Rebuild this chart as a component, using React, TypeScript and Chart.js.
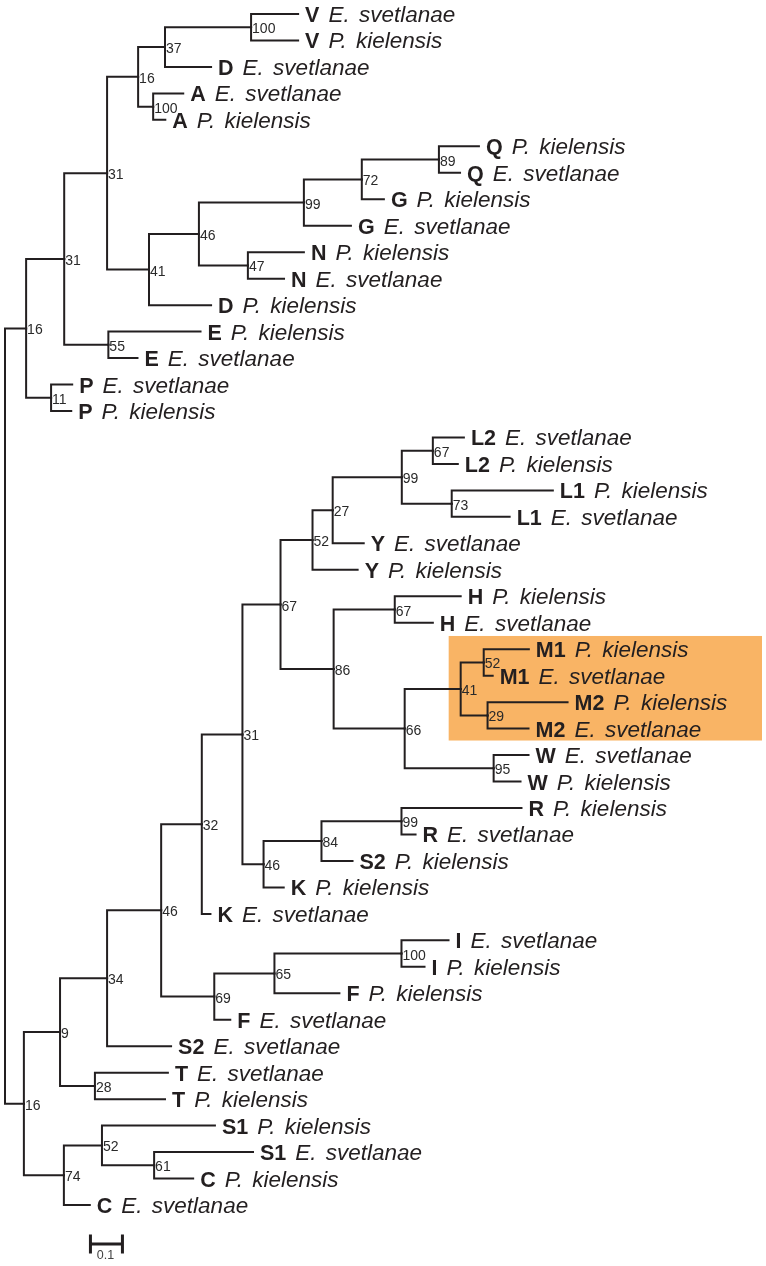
import React, { useEffect, useRef } from 'react';
import { Chart, registerables } from 'chart.js';

Chart.register(...registerables);

// ---- Tree data (top-to-bottom leaf order) ----
const leafCodes = [
  'V', 'V', 'D', 'A', 'A', 'Q', 'Q', 'G', 'G', 'N', 'N', 'D', 'E', 'E', 'P', 'P',
  'L2', 'L2', 'L1', 'L1', 'Y', 'Y', 'H', 'H', 'M1', 'M1', 'M2', 'M2', 'W', 'W',
  'R', 'R', 'S2', 'K', 'K', 'I', 'I', 'F', 'F', 'S2', 'T', 'T', 'S1', 'S1', 'C', 'C',
];
const leafSpecies = [
  'E. svetlanae', 'P. kielensis', 'E. svetlanae', 'E. svetlanae', 'P. kielensis',
  'P. kielensis', 'E. svetlanae', 'P. kielensis', 'E. svetlanae', 'P. kielensis',
  'E. svetlanae', 'P. kielensis', 'P. kielensis', 'E. svetlanae', 'E. svetlanae',
  'P. kielensis',
  'E. svetlanae', 'P. kielensis', 'P. kielensis', 'E. svetlanae', 'E. svetlanae',
  'P. kielensis', 'P. kielensis', 'E. svetlanae', 'P. kielensis', 'E. svetlanae',
  'P. kielensis', 'E. svetlanae', 'E. svetlanae', 'P. kielensis',
  'P. kielensis', 'E. svetlanae', 'P. kielensis', 'P. kielensis', 'E. svetlanae',
  'E. svetlanae', 'P. kielensis', 'P. kielensis', 'E. svetlanae', 'E. svetlanae',
  'E. svetlanae', 'P. kielensis', 'P. kielensis', 'E. svetlanae', 'P. kielensis',
  'E. svetlanae',
];
const leafBranchLengths = [
  0.147, 0.147, 0.144, 0.094, 0.038, 0.125, 0.066, 0.069, 0.147, 0.175, 0.113,
  0.194, 0.288, 0.091, 0.066, 0.063,
  0.097, 0.078, 0.316, 0.181, 0.097, 0.141, 0.206, 0.119, 0.141, 0.028, 0.250,
  0.128, 0.109, 0.084,
  0.375, 0.044, 0.097, 0.063, 0.027, 0.147, 0.072, 0.203, 0.050, 0.200, 0.228,
  0.219, 0.353, 0.309, 0.122, 0.081,
];

// internal nodes: name, children, branch length, bootstrap support
const nodeNames = [
  'root', 'n16a', 'n31b', 'n31a', 'n16b', 'n37', 'n100V', 'n100A', 'n41', 'n46',
  'n99QG', 'n72', 'n89', 'n47', 'n55', 'n11', 'n16c', 'n9', 'n34', 'n46b', 'n32',
  'n31c', 'n67', 'n52Y', 'n27', 'n99L', 'n67L2', 'n73', 'n86', 'n67H', 'n66',
  'n41M', 'n52M', 'n29', 'n95', 'n46K', 'n84', 'n99R', 'n69', 'n65', 'n100I',
  'n28', 'n74', 'n52S', 'n61',
];
const nodeChildren = [
  ['n16a', 'n16c'], ['n31b', 'n11'], ['n31a', 'n55'], ['n16b', 'n41'], ['n37', 'n100A'],
  ['n100V', 'L2'], ['L0', 'L1'], ['L3', 'L4'], ['n46', 'L11'], ['n99QG', 'n47'],
  ['n72', 'L8'], ['n89', 'L7'], ['L5', 'L6'], ['L9', 'L10'], ['L12', 'L13'], ['L14', 'L15'],
  ['n9', 'n74'], ['n34', 'n28'], ['n46b', 'L39'], ['n32', 'n69'], ['n31c', 'L34'],
  ['n67', 'n46K'], ['n52Y', 'n86'], ['n27', 'L21'], ['n99L', 'L20'], ['n67L2', 'n73'],
  ['L16', 'L17'], ['L18', 'L19'], ['n67H', 'n66'], ['L22', 'L23'], ['n41M', 'n95'],
  ['n52M', 'n29'], ['L24', 'L25'], ['L26', 'L27'], ['L28', 'L29'], ['n84', 'L33'],
  ['n99R', 'L32'], ['L30', 'L31'], ['n65', 'L38'], ['n100I', 'L37'], ['L35', 'L36'],
  ['L40', 'L41'], ['n52S', 'L45'], ['L42', 'n61'], ['L43', 'L44'],
];
const nodeBranchLengths = [
  0, 0.066, 0.119, 0.134, 0.097, 0.084, 0.269, 0.047, 0.131, 0.156,
  0.328, 0.181, 0.241, 0.153, 0.138, 0.078, 0.059, 0.113, 0.147, 0.169, 0.127,
  0.127, 0.119, 0.100, 0.063, 0.216, 0.097, 0.156, 0.166, 0.191, 0.222,
  0.175, 0.072, 0.084, 0.278, 0.066, 0.181, 0.250, 0.166, 0.188, 0.397,
  0.109, 0.125, 0.119, 0.163,
];
const nodeSupport = [
  null, 16, 31, 31, 16, 37, 100, 100, 41, 46,
  99, 72, 89, 47, 55, 11, 16, 9, 34, 46, 32,
  31, 67, 52, 27, 99, 67, 73, 86, 67, 66,
  41, 52, 29, 95, 46, 84, 99, 69, 65, 100,
  28, 74, 52, 61,
];

// highlighted clade (M1/M2)
const highlightFirstLeaf = 24;
const highlightLastLeaf = 27;
const highlightNode = 'n41M';

// scale bar
const scaleBarLength = 0.1;
const scaleBarLabel = '0.1';

// ---- layout constants ----
const W = 766;
const H = 1266;
const PX_PER_UNIT = 320;
const ROOT_PX = 5;
const LEAF_TOP_PX = 14;
const LEAF_STEP_PX = 26.467;
const LINE_COLOR = '#231f20';

type NodeInfo = { x: number; y: number };

function buildTree() {
  const info: Record<string, NodeInfo> = {};
  const idx: Record<string, number> = {};
  nodeNames.forEach((n, i) => (idx[n] = i));
  const branches: { px: number; py: number; cx: number; cy: number }[] = [];

  const visit = (name: string, depth: number): number => {
    if (name.startsWith('L')) {
      const li = parseInt(name.slice(1), 10);
      const x = depth + leafBranchLengths[li];
      info[name] = { x, y: li };
      return li;
    }
    const i = idx[name];
    const x = depth + nodeBranchLengths[i];
    const ys = nodeChildren[i].map((c) => visit(c, x));
    const y = ys.reduce((a, b) => a + b, 0) / ys.length;
    info[name] = { x, y };
    nodeChildren[i].forEach((c) => {
      branches.push({ px: x, py: y, cx: info[c].x, cy: info[c].y });
    });
    return y;
  };
  visit('root', 0);
  return { info, branches };
}

export default function App() {
  const ref = useRef<HTMLCanvasElement | null>(null);

  useEffect(() => {
    if (!ref.current) return;
    const { info, branches } = buildTree();

    const datasets = branches.map((b) => ({
      data: [
        { x: b.px, y: b.py },
        { x: b.px, y: b.cy },
        { x: b.cx, y: b.cy },
      ],
      showLine: true,
      borderColor: LINE_COLOR,
      borderWidth: 2,
      pointRadius: 0,
      tension: 0,
      fill: false,
      borderJoinStyle: 'miter' as const,
      borderCapStyle: 'square' as const,
    }));

    const treePlugin = {
      id: 'treeDecor',
      beforeDatasetsDraw(chart: any) {
        const { ctx, scales } = chart;
        const xs = scales.x;
        const ys = scales.y;
        const hx = info[highlightNode].x;
        const left = xs.getPixelForValue(hx) - 12;
        const top = ys.getPixelForValue(highlightFirstLeaf - 0.5);
        const bottom = ys.getPixelForValue(highlightLastLeaf + 0.45);
        ctx.save();
        ctx.fillStyle = '#f9b465';
        ctx.fillRect(left, top, W - 4 - left, bottom - top);
        ctx.restore();
      },
      afterDatasetsDraw(chart: any) {
        const { ctx, scales } = chart;
        const xs = scales.x;
        const ys = scales.y;
        ctx.save();
        ctx.fillStyle = LINE_COLOR;
        ctx.textBaseline = 'alphabetic';
        ctx.textAlign = 'left';
        // leaf labels
        leafCodes.forEach((code, i) => {
          const n = info['L' + i];
          const x0 = xs.getPixelForValue(n.x) + 7;
          const y0 = ys.getPixelForValue(n.y) + 8;
          ctx.font = 'bold 21.5px "Liberation Sans", Arial, sans-serif';
          (ctx as any).wordSpacing = '0px';
          ctx.fillText(code, x0, y0);
          const w = ctx.measureText(code).width;
          ctx.font = 'italic 22.5px "Liberation Sans", Arial, sans-serif';
          (ctx as any).wordSpacing = '3px';
          ctx.fillText(leafSpecies[i], x0 + w + 9, y0);
        });
        (ctx as any).wordSpacing = '0px';
        // bootstrap values
        ctx.font = '14px "Liberation Sans", Arial, sans-serif';
        ctx.fillStyle = '#2a2a2a';
        nodeNames.forEach((name, i) => {
          const s = nodeSupport[i];
          if (s === null) return;
          const n = info[name];
          ctx.fillText(String(s), xs.getPixelForValue(n.x) + 1, ys.getPixelForValue(n.y) + 6);
        });
        // scale bar
        const sx0 = xs.getPixelForValue(0.267);
        const sx1 = xs.getPixelForValue(0.267 + scaleBarLength);
        const sy = ys.getPixelForValue(46.47);
        ctx.strokeStyle = LINE_COLOR;
        ctx.lineWidth = 3;
        ctx.beginPath();
        ctx.moveTo(sx0, sy);
        ctx.lineTo(sx1, sy);
        ctx.moveTo(sx0, sy - 9.5);
        ctx.lineTo(sx0, sy + 9.5);
        ctx.moveTo(sx1, sy - 9.5);
        ctx.lineTo(sx1, sy + 9.5);
        ctx.stroke();
        ctx.font = '12.5px "Liberation Sans", Arial, sans-serif';
        ctx.fillStyle = '#444';
        ctx.textAlign = 'center';
        ctx.fillText(scaleBarLabel, (sx0 + sx1) / 2 - 1, sy + 15);
        ctx.restore();
      },
    };

    const chart = new Chart(ref.current, {
      type: 'scatter',
      data: { datasets },
      options: {
        animation: false,
        responsive: false,
        devicePixelRatio: 1,
        layout: { padding: 0 },
        events: [],
        plugins: { legend: { display: false }, tooltip: { enabled: false } },
        scales: {
          x: {
            type: 'linear',
            display: false,
            min: -ROOT_PX / PX_PER_UNIT,
            max: (W - ROOT_PX) / PX_PER_UNIT,
          },
          y: {
            type: 'linear',
            display: false,
            reverse: true,
            min: -LEAF_TOP_PX / LEAF_STEP_PX,
            max: (H - LEAF_TOP_PX) / LEAF_STEP_PX,
          },
        },
      },
      plugins: [treePlugin],
    });
    return () => chart.destroy();
  }, []);

  return (
    <div style={{ position: 'absolute', left: 0, top: 0, width: W, height: H, background: '#fff' }}>
      <canvas ref={ref} width={W} height={H} style={{ display: 'block' }} />
    </div>
  );
}
